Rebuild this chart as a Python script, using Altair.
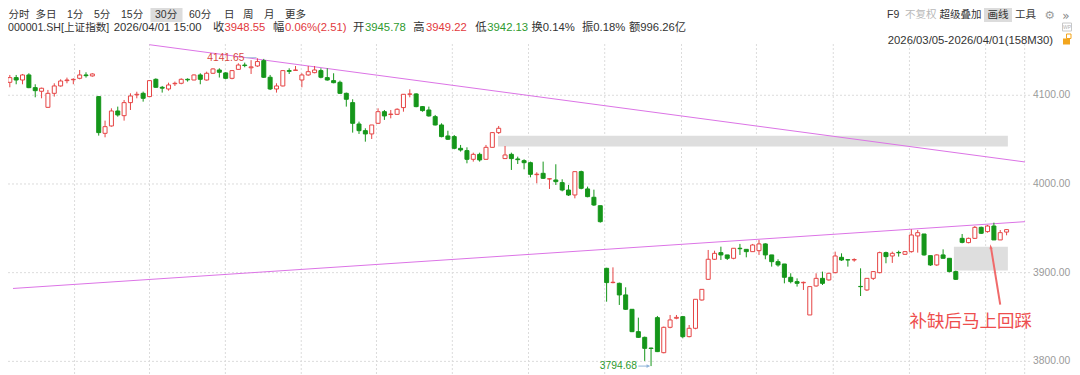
import altair as alt
import pandas as pd

# ---------------- data ----------------
IDX = list(range(158))
OPEN = [4114.6, 4119.9, 4117.2, 4122.9, 4108.6, 4104.5, 4086.4, 4102.2, 4110.5, 4116.5,
        4117.5, 4119.1, 4122.9, 4121.8, 4098.5, 4057.1, 4065.4, 4082.3, 4077.0, 4091.7,
        4100.4, 4102.2, 4098.5, 4118.0, 4109.0, 4107.1, 4113.0, 4113.5, 4118.0, 4117.2,
        4122.9, 4117.2, 4124.8, 4128.5, 4125.2, 4119.1, 4129.2, 4134.1, 4131.0, 4133.0,
        4139.0, 4120.3, 4107.1, 4110.5, 4127.8, 4128.0, 4117.2, 4122.9, 4125.5, 4127.8,
        4119.9, 4116.5, 4114.6, 4102.2, 4091.7, 4067.6, 4060.1, 4056.4, 4068.4, 4081.5,
        4078.3, 4078.5, 4086.1, 4101.1, 4101.5, 4087.2, 4083.4, 4075.9, 4066.5, 4054.1,
        4053.4, 4040.2, 4037.6, 4027.8, 4033.4, 4027.8, 4041.3, 4057.9, 4028.6, 4033.4,
        4028.2, 4026.3, 4024.0, 4010.5, 4012.0, 4005.6, 4004.5, 4001.5, 3993.2, 3987.6,
        4013.9, 3994.4, 3985.0, 3975.5, 3904.9, 3888.8, 3888.0, 3874.9, 3858.7, 3833.5,
        3827.1, 3815.0, 3849.3, 3809.8, 3838.4, 3848.6, 3850.4, 3827.9, 3837.3, 3869.2,
        3892.5, 3915.1, 3922.6, 3920.0, 3916.2, 3927.5, 3926.3, 3923.7, 3924.8, 3932.4,
        3920.0, 3912.4, 3909.8, 3894.8, 3889.9, 3888.6, 3852.3, 3885.0, 3893.6, 3891.8,
        3900.0, 3917.3, 3914.6, 3914.3, 3884.5, 3880.5, 3893.6, 3900.0, 3922.6, 3918.8,
        3922.8, 3920.7, 3923.7, 3941.4, 3943.6, 3919.2, 3908.7, 3920.0, 3916.2, 3901.2,
        3938.7, 3933.9, 3938.7, 3951.1, 3946.3, 3952.6, 3936.9, 3945.78]
HIGH = [4122.9, 4122.9, 4124.0, 4124.8, 4112.4, 4108.6, 4106.0, 4113.5, 4118.0, 4119.9,
        4119.1, 4128.5, 4125.9, 4124.8, 4099.2, 4071.4, 4085.3, 4087.2, 4094.7, 4102.2,
        4104.0, 4104.1, 4117.2, 4119.1, 4110.5, 4114.2, 4115.4, 4119.1, 4119.1, 4123.5,
        4124.8, 4126.6, 4130.4, 4130.4, 4126.0, 4128.5, 4136.0, 4136.8, 4139.6, 4141.65,
        4141.0, 4122.9, 4113.5, 4128.5, 4130.4, 4133.0, 4124.8, 4133.0, 4133.0, 4130.4,
        4130.4, 4124.8, 4116.5, 4103.0, 4095.5, 4070.3, 4062.8, 4066.5, 4085.3, 4083.4,
        4083.4, 4085.3, 4101.1, 4106.7, 4102.2, 4087.9, 4087.2, 4077.8, 4068.4, 4060.0,
        4055.2, 4044.0, 4041.3, 4035.3, 4035.3, 4044.0, 4058.6, 4065.4, 4042.8, 4035.3,
        4030.8, 4027.8, 4025.2, 4013.2, 4025.2, 4006.4, 4022.2, 4005.3, 3998.9, 4013.9,
        4015.0, 3997.0, 3993.6, 3975.5, 3905.5, 3906.0, 3888.8, 3883.5, 3859.0, 3849.3,
        3827.9, 3815.5, 3851.2, 3839.2, 3852.3, 3852.3, 3851.2, 3841.0, 3870.0, 3881.2,
        3925.6, 3924.8, 3929.3, 3920.0, 3927.5, 3932.4, 3926.3, 3932.4, 3936.9, 3933.1,
        3920.0, 3915.1, 3909.8, 3899.3, 3893.6, 3889.9, 3884.3, 3899.3, 3901.2, 3899.3,
        3923.7, 3921.8, 3915.1, 3916.2, 3904.9, 3893.6, 3901.9, 3923.7, 3923.7, 3923.7,
        3924.8, 3924.5, 3948.9, 3948.1, 3943.6, 3919.2, 3920.7, 3926.3, 3916.2, 3902.3,
        3943.6, 3939.5, 3952.6, 3951.9, 3953.8, 3956.4, 3948.1, 3949.22]
LOW = [4109.0, 4112.4, 4112.4, 4108.0, 4097.7, 4096.6, 4086.0, 4098.5, 4109.7, 4113.5,
       4112.4, 4118.0, 4119.9, 4121.0, 4054.5, 4052.6, 4064.6, 4075.9, 4071.4, 4083.4,
       4096.6, 4092.8, 4098.5, 4108.5, 4103.0, 4105.2, 4110.5, 4112.4, 4115.4, 4117.0,
       4112.4, 4116.5, 4124.0, 4120.0, 4118.0, 4118.0, 4128.5, 4131.6, 4124.0, 4132.0,
       4119.5, 4105.9, 4103.0, 4110.0, 4124.0, 4127.5, 4109.0, 4122.0, 4124.8, 4119.1,
       4116.5, 4113.5, 4101.5, 4087.2, 4057.9, 4056.4, 4047.7, 4050.7, 4067.6, 4072.2,
       4074.0, 4077.8, 4081.5, 4097.7, 4086.5, 4081.5, 4075.9, 4066.0, 4052.6, 4049.6,
       4039.1, 4036.5, 4023.3, 4025.2, 4025.2, 4027.1, 4041.3, 4056.4, 4028.2, 4015.8,
       4022.5, 4016.5, 4007.5, 4000.8, 4005.6, 3994.4, 3998.9, 3991.7, 3986.5, 3983.8,
       3994.0, 3985.0, 3975.2, 3956.4, 3867.3, 3888.0, 3863.6, 3858.0, 3833.0, 3826.5,
       3800.5, 3794.68, 3810.5, 3809.1, 3837.3, 3847.5, 3826.0, 3827.1, 3836.2, 3868.5,
       3891.8, 3914.3, 3914.3, 3914.3, 3915.1, 3920.0, 3917.3, 3923.7, 3920.0, 3915.1,
       3906.8, 3906.8, 3888.0, 3888.0, 3884.3, 3880.5, 3852.3, 3884.3, 3886.1, 3891.0,
       3899.3, 3913.2, 3906.8, 3912.4, 3873.7, 3879.4, 3891.8, 3899.3, 3910.6, 3911.0,
       3918.1, 3920.0, 3922.6, 3922.6, 3919.2, 3907.6, 3907.6, 3916.2, 3900.4, 3891.8,
       3933.1, 3933.1, 3938.0, 3943.6, 3945.1, 3936.9, 3936.9, 3942.13]
CLOSE = [4119.9, 4117.2, 4122.9, 4108.6, 4105.2, 4107.9, 4102.2, 4110.5, 4116.1, 4117.2,
         4118.0, 4122.9, 4122.1, 4124.0, 4057.9, 4064.6, 4082.3, 4077.8, 4091.7, 4099.2,
         4101.1, 4096.6, 4116.5, 4109.0, 4108.0, 4111.6, 4113.5, 4118.0, 4117.4, 4122.9,
         4118.0, 4124.8, 4129.7, 4125.9, 4119.1, 4127.8, 4134.1, 4133.5, 4132.0, 4138.0,
         4120.3, 4107.1, 4110.5, 4127.8, 4127.0, 4128.5, 4122.9, 4126.6, 4128.5, 4120.3,
         4117.2, 4114.2, 4102.2, 4095.5, 4068.4, 4060.1, 4056.4, 4066.5, 4081.5, 4076.7,
         4078.8, 4084.2, 4101.1, 4101.5, 4087.2, 4082.7, 4076.7, 4066.5, 4053.4, 4050.4,
         4040.2, 4038.3, 4027.8, 4033.4, 4027.1, 4041.3, 4057.9, 4062.8, 4032.7, 4028.6,
         4027.4, 4024.0, 4010.9, 4011.0, 4006.4, 4005.9, 4002.6, 3993.2, 3987.6, 4013.9,
         3995.1, 3985.7, 3976.3, 3957.5, 3888.8, 3889.2, 3874.9, 3858.7, 3833.5, 3827.1,
         3814.7, 3814.5, 3811.0, 3838.4, 3846.7, 3849.6, 3827.9, 3837.3, 3870.0, 3881.2,
         3915.1, 3921.8, 3920.0, 3916.2, 3927.5, 3927.0, 3923.7, 3931.2, 3932.4, 3920.0,
         3912.4, 3908.7, 3894.8, 3889.9, 3888.0, 3889.1, 3884.3, 3893.6, 3888.0, 3899.3,
         3918.8, 3914.3, 3914.3, 3914.8, 3884.2, 3893.6, 3901.2, 3922.6, 3918.1, 3921.8,
         3922.4, 3923.7, 3942.5, 3945.1, 3920.0, 3908.7, 3920.0, 3916.2, 3901.2, 3892.5,
         3934.2, 3938.7, 3951.1, 3944.4, 3952.6, 3936.9, 3945.1, 3948.55]

Y_TICKS = [3800, 3900, 4000, 4100]
Y_LABELS = ["3800.00", "3900.00", "4000.00", "4100.00"]
GRID_IDX = [10.2, 22.0, 33.95, 45.9, 57.75, 69.7, 81.7, 93.7, 105.8, 117.6, 129.7, 141.7, 153.7, 159.85]

TREND_KEY = ["upper", "upper", "lower", "lower"]
TREND_I = [22.0, 159.9, 0.5, 159.9]
TREND_V = [4157.0, 4024.8, 3882.2, 3957.5]

GAP_I0 = [76.9, 148.7]
GAP_I1 = [157.2, 157.2]
GAP_V0 = [4042.2, 3902.5]
GAP_V1 = [4054.5, 3929.3]

HIGH_I, HIGH_V, HIGH_TXT = 39, 4141.65, "4141.65"
LOW_I, LOW_V, LOW_TXT = 101, 3794.68, "3794.68"
NOTE_TXT = "补缺后马上回踩"
NOTE_I, NOTE_V = 141.7, 3844.4
ARROW_I = [156.0, 154.55]
ARROW_V = [3864.0, 3928.0]

# ---------------- style ----------------
W, H = 1022, 336
RED = "#e64545"
GREEN = "#15961a"
TXT_RED = "#e2383d"
TXT_GREEN = "#2e9a2e"
DARK = "#333333"
TREND = "#dc74e6"
GRID = "#dcdcdc"
FONT = "Liberation Sans, Noto Sans CJK SC, sans-serif"

XS = alt.Scale(domain=[0.5, 159.9], nice=False, zero=False)
YS = alt.Scale(domain=[3779.0, 4157.8], nice=False, zero=False)


def X(f):
    return alt.X(f, scale=XS, axis=None)


def Y(f):
    return alt.Y(f, scale=YS, axis=None)


df = pd.DataFrame({"i": IDX, "o": OPEN, "h": HIGH, "l": LOW, "c": CLOSE})
gap_df = pd.DataFrame({"i0": GAP_I0, "i1": GAP_I1, "v0": GAP_V0, "v1": GAP_V1})
trend_df = pd.DataFrame({"k": TREND_KEY, "i": TREND_I, "v": TREND_V})
vgrid_df = pd.DataFrame({"i": GRID_IDX})
hgrid_df = pd.DataFrame({"v": Y_TICKS, "t": Y_LABELS})

vgrid = alt.Chart(vgrid_df).mark_rule(color=GRID, strokeWidth=1, strokeDash=[2, 2]).encode(x=X("i:Q"))
hgrid = alt.Chart(hgrid_df).mark_rule(color=GRID, strokeWidth=1, strokeDash=[2, 2]).encode(y=Y("v:Q"))
ylabels = alt.Chart(hgrid_df).mark_text(align="left", baseline="middle", fontSize=10.3, font=FONT,
                                        color="#9a9a9a").encode(
    x=alt.value(W + 3), y=Y("v:Q"), text="t:N")

gaps = alt.Chart(gap_df).mark_rect(color="#dedede", clip=True).encode(
    x=X("i0:Q"), x2="i1:Q", y=Y("v0:Q"), y2="v1:Q")

trends = alt.Chart(trend_df).mark_line(color=TREND, strokeWidth=1, clip=True).encode(
    x=X("i:Q"), y=Y("v:Q"), detail="k:N")

up = "datum.c >= datum.o"
wicks = alt.Chart(df).mark_rule(strokeWidth=1, clip=True).encode(
    x=X("i:Q"), y=Y("l:Q"), y2="h:Q",
    color=alt.condition(up, alt.value(RED), alt.value(GREEN)))

bodies = alt.Chart(df).mark_bar(size=4, strokeWidth=1, clip=True).encode(
    x=X("i:Q"), y=Y("o:Q"), y2="c:Q",
    fill=alt.condition(up, alt.value("#ffffff"), alt.value(GREEN)),
    stroke=alt.condition(up, alt.value(RED), alt.value(GREEN)))


def pt_text(txt, i, v, color, size, align="left", dx=0, font=FONT):
    d = pd.DataFrame({"i": [i], "v": [v], "t": [txt]})
    return alt.Chart(d).mark_text(align=align, baseline="middle", dx=dx, fontSize=size,
                                  font=font, color=color).encode(x=X("i:Q"), y=Y("v:Q"), text="t:N")


def seg(i0, i1, v0, v1, color, width=1):
    d = pd.DataFrame({"i0": [i0], "i1": [i1], "v0": [v0], "v1": [v1]})
    return alt.Chart(d).mark_rule(color=color, strokeWidth=width).encode(
        x=X("i0:Q"), x2="i1:Q", y=Y("v0:Q"), y2="v1:Q")


hi_lbl = pt_text(HIGH_TXT, HIGH_I, HIGH_V, "#d9473f", 10.3, align="right", dx=-13)
hi_line = seg(HIGH_I - 1.95, HIGH_I - 0.15, HIGH_V + 0.8, HIGH_V + 0.8, "#a9c1dc")
lo_lbl = pt_text(LOW_TXT, LOW_I, LOW_V, TXT_GREEN, 10.3, align="right", dx=-14)
lo_line = seg(LOW_I - 2.0, LOW_I - 0.25, LOW_V, LOW_V, "#8fb3d9")
lo_head = alt.Chart(pd.DataFrame({"i": [LOW_I - 0.45], "v": [LOW_V]})).mark_point(
    shape="triangle-right", size=14, filled=True, color="#8fb3d9", opacity=1).encode(
    x=X("i:Q"), y=Y("v:Q"))

note = pt_text(NOTE_TXT, NOTE_I, NOTE_V, "#ee4e4e", 17.5, font="Noto Sans CJK SC")
arrow = seg(ARROW_I[0], ARROW_I[1], ARROW_V[0], ARROW_V[1], "#f06a6a", 2)
arrow_head = alt.Chart(pd.DataFrame({"i": [ARROW_I[1] - 0.05], "v": [ARROW_V[1] + 1.0]})).mark_point(
    shape="M0,-1L0.6,0.9L0,0.45L-0.6,0.9Z", size=28, filled=True, color="#f06a6a", opacity=1,
    angle=351).encode(x=X("i:Q"), y=Y("v:Q"))

# ---------------- header (pixel layout relative to plot origin) ----------------
one = pd.DataFrame({"t": [""]})


def label(s, x, y, color=DARK, size=11, align="left", font=FONT):
    return alt.Chart(pd.DataFrame({"t": [s]})).mark_text(
        align=align, baseline="middle", fontSize=size, font=font, color=color).encode(
        x=alt.value(x), y=alt.value(y), text="t:N")


def box(x1, x2, y1, y2, fill="#dcdcdc"):
    return alt.Chart(one).mark_rect(color=fill).encode(
        x=alt.value(x1), x2=alt.value(x2), y=alt.value(y1), y2=alt.value(y2))


def outline(x1, x2, y1, y2, color):
    return alt.Chart(one).mark_rect(fillOpacity=0, stroke=color, strokeWidth=1).encode(
        x=alt.value(x1), x2=alt.value(x2), y=alt.value(y1), y2=alt.value(y2))


R1, R2, R3 = -29, -16.5, -3.5
header = [box(142.5, 174.5, -36, -22), box(976, 1004, -36, -22)]
for s, x in [("分时", 0.5), ("多日", 27.5), ("1分", 59), ("5分", 86), ("15分", 113), ("30分", 147),
             ("60分", 181), ("日", 216), ("周", 235), ("月", 256), ("更多", 277)]:
    header.append(label(s, x, R1, DARK, 10.5))
for s, x, col in [("F9", 879, DARK), ("不复权", 897, "#b8b8b8"), ("超级叠加", 931.5, DARK),
                  ("画线", 979.5, DARK), ("工具", 1007, DARK)]:
    header.append(label(s, x, R1, col, 10.5))
header.append(label("⚙", 1041.7, R1 + 0.5, "#9a9a9a", 11.5, align="center", font="DejaVu Sans"))
header.append(label("»", 1058, R1 + 0.5, "#888888", 12, align="center", font="DejaVu Sans"))

header.append(label("000001.SH[上证指数]", 0, R2, DARK, 10.6))
for s, x, col in [("2026/04/01 15:00", 105.7, DARK), ("收", 204.9, DARK), ("3948.55", 216.5, TXT_RED),
                  ("幅", 265, DARK), ("0.06%(2.51)", 277, TXT_RED), ("开", 345, DARK),
                  ("3945.78", 357, TXT_GREEN), ("高", 405.3, DARK), ("3949.22", 418, TXT_RED),
                  ("低", 467.3, DARK), ("3942.13", 479.3, TXT_GREEN), ("换0.14%", 523.5, DARK),
                  ("振0.18%", 574, DARK), ("额996.26亿", 621, DARK)]:
    header.append(label(s, x, R2, col, 11.3))
header.append(outline(1054.5, 1063.5, R2 - 4.5, R2 + 3.5, "#c8c8c8"))
header.append(label("WP", 1059, R2 - 0.5, "#b0b0b0", 5, align="center"))

header.append(label("2026/03/05-2026/04/01(158M30)", 879.8, R3, DARK, 11.3))
header.append(box(1055, 1062, R3 - 2, R3 + 4, "#f2a51d"))
header.append(outline(1058.5, 1063, R3 - 6.5, R3 - 2, "#f2a51d"))

chart = alt.layer(
    vgrid, hgrid, ylabels, gaps, trends, wicks, bodies,
    hi_line, hi_lbl, lo_line, lo_head, lo_lbl,
    arrow, arrow_head, note,
    *header
).properties(
    width=W, height=H,
    padding={"left": 0, "top": 36, "right": 42, "bottom": 0},
    autosize=alt.AutoSizeParams(type="none"),
    background="#ffffff",
).configure_view(strokeWidth=0)

chart.save("out.html", embed_options={"renderer": "svg", "actions": False})
